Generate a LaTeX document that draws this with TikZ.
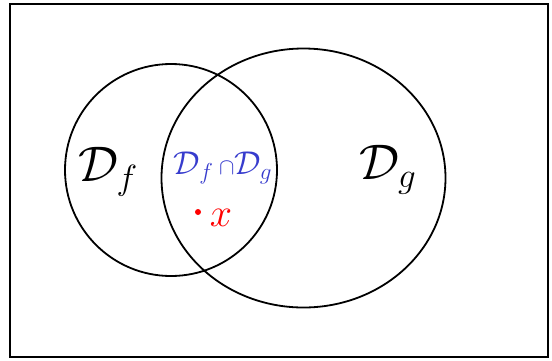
\documentclass[tikz,border=0pt]{standalone}
\usepackage{fix-cm}
\usepackage{amsmath}
\usepackage{xcolor}
\usepackage{tikz}
\usetikzlibrary{positioning,shapes.geometric}
\definecolor{penblue}{RGB}{55,60,205}

\begin{document}
\begin{tikzpicture}[x=1pt,y=-1pt,line width=1.8pt,
  every node/.style={inner sep=0pt},
  setlbl/.style={font=\fontsize{50}{54}\selectfont},
  cutlbl/.style={font=\fontsize{33}{36}\selectfont,text=penblue}]
\useasboundingbox (0,0) rectangle (552,360);
\draw (10,4) rectangle (548,357);
\node[draw,circle,minimum size=212pt] (df) at (171,170) {};
\node[draw,ellipse,minimum width=284pt,minimum height=259pt] (dg) at (303.5,178) {};
\node[setlbl] (dflbl) at (108,172) {$\mathcal{D}_f$};
\node[setlbl] (dglbl) at (388,170) {$\mathcal{D}_g$};
\node[cutlbl] (cut) at (223,168) {$\mathcal{D}_f\,{\scriptstyle\cap}\mathcal{D}_g$};
\node[circle,fill=red,minimum size=6pt] (xpt) at (198,212) {};
\node[font=\fontsize{40}{44}\selectfont,text=red] (xlbl) at (221,218) {$x$};
\end{tikzpicture}
\end{document}
